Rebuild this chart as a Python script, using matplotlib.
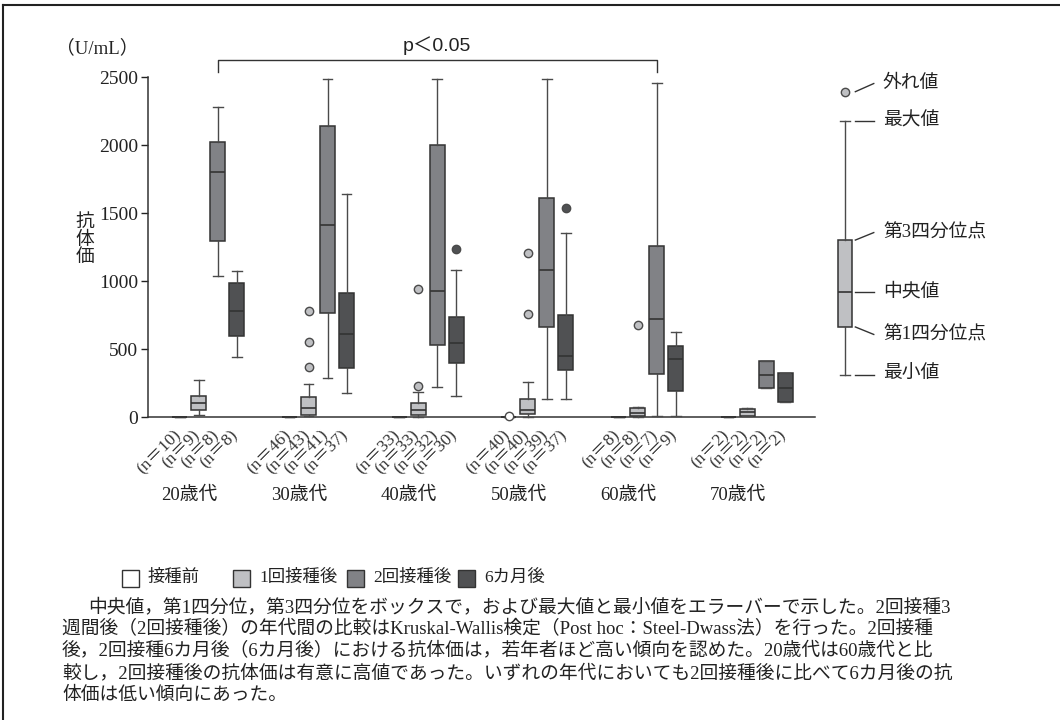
import numpy as np
import matplotlib.pyplot as plt
from matplotlib.patches import Rectangle
from matplotlib.lines import Line2D

SERIF_JP = ['Liberation Serif', 'Noto Sans CJK JP']
SANS_JP = ['Liberation Sans', 'Noto Sans CJK JP']
plt.rcParams['font.family'] = SERIF_JP

ages = ['20歳代', '30歳代', '40歳代', '50歳代', '60歳代', '70歳代']
series = ['接種前', '1回接種後', '2回接種後', '6カ月後']
colors = ['#ffffff', '#bfc0c3', '#818286', '#505153']
n_counts = [[10, 9, 8, 8], [46, 43, 41, 37], [33, 33, 32, 30],
            [40, 40, 39, 37], [8, 8, 7, 9], [2, 2, 2, 2]]

# (min, Q1, median, Q3, max) for each age group
pre = [(0, 0, 0, 0, 0)] * 6
dose1 = [(12, 51, 105, 157, 272), (5, 17, 64, 149, 240), (3, 15, 51, 101, 186),
         (3, 24, 54, 131, 260), (2, 5, 32, 64, 76), (5, 8, 35, 60, 64)]
dose2 = [(1034, 1292, 1801, 2022, 2279), (289, 767, 1414, 2140, 2488),
         (223, 529, 929, 2000, 2488), (130, 659, 1078, 1608, 2488),
         (5, 316, 723, 1255, 2458), (215, 215, 310, 410, 410)]
month6 = [(441, 598, 782, 983, 1073), (179, 358, 610, 909, 1642),
          (157, 395, 544, 733, 1083), (130, 343, 446, 750, 1355),
          (10, 194, 424, 522, 627), (110, 110, 215, 320, 320)]

pre_out = [[], [], [], [5], [], []]
dose1_out = [[], [779, 549, 365], [939, 228], [1203, 755], [676], []]
dose2_out = [[], [], [], [], [], []]
month6_out = [[], [], [1235], [1539], [], []]

# key diagram values
key_five = (309, 662, 919, 1301, 2176)
key_out = [2392]
key_labels = ['外れ値', '最大値', '第3四分位点', '中央値', '第1四分位点', '最小値']

caption = [
    '中央値，第1四分位，第3四分位をボックスで，および最大値と最小値をエラーバーで示した。2回接種3',
    '週間後（2回接種後）の年代間の比較はKruskal-Wallis検定（Post hoc：Steel-Dwass法）を行った。2回接種',
    '後，2回接種6カ月後（6カ月後）における抗体価は，若年者ほど高い傾向を認めた。20歳代は60歳代と比',
    '較し，2回接種後の抗体価は有意に高値であった。いずれの年代においても2回接種後に比べて6カ月後の抗',
    '体価は低い傾向にあった。',
]

W, H = 1060, 720
fig = plt.figure(figsize=(W / 100, H / 100), dpi=100)

def fx(px):
    return px / W

def fy(py):
    return 1 - py / H

ax = fig.add_axes([fx(148), fy(417), fx(815 - 148), 340 / H])

step = 0.173
bw = 0.137

def stats_of(five, out):
    lo, q1, med, q3, hi = five
    return dict(whislo=lo, q1=q1, med=med, q3=q3, whishi=hi, fliers=out)

all_data = [(pre, pre_out), (dose1, dose1_out), (dose2, dose2_out), (month6, month6_out)]
for j, (five_list, out_list) in enumerate(all_data):
    pos = np.arange(len(ages)) + (j - 1.5) * step
    st = [stats_of(f, o) for f, o in zip(five_list, out_list)]
    art = ax.bxp(st, positions=pos, widths=bw, patch_artist=True,
                 manage_ticks=False, capwidths=bw * 0.65,
                 boxprops=dict(facecolor=colors[j], edgecolor='#333333', linewidth=1.1),
                 medianprops=dict(color='#333333', linewidth=1.2),
                 whiskerprops=dict(color='#4a4a4a', linewidth=1.0),
                 capprops=dict(color='#4a4a4a', linewidth=1.0),
                 flierprops=dict(marker='o', markersize=6, markerfacecolor=colors[j],
                                 markeredgecolor='#4a4a4a', markeredgewidth=1.0))
    for group in art.values():
        for a in group:
            a.set_clip_on(False)
            a.set_zorder(3)
    for k, p in enumerate(pos):
        ax.text(p + 0.04, -0.03, f'(n＝{n_counts[k][j]})', rotation=45,
                ha='right', va='top', fontsize=12.5, color='#333333',
                transform=ax.get_xaxis_transform())

ax.set_xlim(-0.55, 5.53)
ax.set_ylim(0, 2500)
ax.set_yticks([0, 500, 1000, 1500, 2000, 2500])
ax.set_xticks([])
ax.tick_params(axis='y', direction='out', length=5, width=1, labelsize=14,
               colors='#222222', pad=2)
for s in ['top', 'right']:
    ax.spines[s].set_visible(False)
for s in ['left', 'bottom']:
    ax.spines[s].set_color('#333333')
    ax.spines[s].set_linewidth(1.1)

for i, a in enumerate(ages):
    ax.text(i - 0.17, -0.23, a, ha='center', va='center', fontsize=13.5,
            color='#222222', transform=ax.get_xaxis_transform())

# significance bracket between 20s and 60s after the second dose
bx0, bx1 = 0 + 0.5 * step, 4 + 0.5 * step
ax.plot([bx0, bx0, bx1, bx1], [2537, 2625, 2625, 2537], color='#333333',
        linewidth=1.0, clip_on=False)
ax.text((bx0 + bx1) / 2, 2660, 'p＜0.05', ha='center', va='bottom',
        fontsize=14, family=SANS_JP, color='#222222')

fig.text(fx(97), fy(48), '（U/mL）', ha='center', va='center', fontsize=13.5, color='#222222')
fig.text(fx(85), fy(240), '抗\n体\n価', ha='center', va='center', fontsize=13.5,
         linespacing=1.05, color='#222222')

# key diagram on the right
kax = fig.add_axes([fx(820), fy(417), fx(230), 340 / H])
kax.set_xlim(0, 1)
kax.set_ylim(0, 2500)
kax.axis('off')
kx = (845 - 820) / 230
kart = kax.bxp([stats_of(key_five, key_out)], positions=[kx], widths=0.065,
               patch_artist=True, manage_ticks=False, capwidths=0.045,
               boxprops=dict(facecolor=colors[1], edgecolor='#333333', linewidth=1.1),
               medianprops=dict(color='#333333', linewidth=1.2),
               whiskerprops=dict(color='#4a4a4a', linewidth=1.0),
               capprops=dict(color='#4a4a4a', linewidth=1.0),
               flierprops=dict(marker='o', markersize=6, markerfacecolor=colors[1],
                               markeredgecolor='#4a4a4a', markeredgewidth=1.0))
lo, q1, med, q3, hi = key_five
ol = key_out[0]
x0, x1 = kx + 0.045, kx + 0.125
lead = [(ol, ol + 60), (hi, hi), (q3, q3 + 55), (med, med), (q1, q1 - 55), (lo, lo)]
for (ya, yb), lab in zip(lead, key_labels):
    kax.plot([x0, x1], [ya, yb], color='#333333', linewidth=1.0)
    kax.text(x1 + 0.04, yb, lab, ha='left', va='center', fontsize=13.5, color='#222222')

# legend row
leg_sq = [122, 233, 347, 458]
for j, name in enumerate(series):
    fig.patches.append(Rectangle((fx(leg_sq[j]), fy(587)), fx(17), 17 / H,
                                 transform=fig.transFigure, facecolor=colors[j],
                                 edgecolor='#333333', linewidth=1.0))
    fig.text(fx(leg_sq[j] + 26), fy(578), name, ha='left', va='center',
             fontsize=12.5, color='#222222')

for i, line in enumerate(caption):
    x = 88 if i == 0 else 62
    fig.text(fx(x), fy(607 + 22 * i), line, ha='left', va='center',
             fontsize=13.5, color='#222222')

# outer frame (top and left edges)
fig.add_artist(Line2D([fx(3), 1], [fy(5), fy(5)], color='#222222', linewidth=1.5,
                      transform=fig.transFigure))
fig.add_artist(Line2D([fx(3), fx(3)], [fy(5), 0], color='#222222', linewidth=1.5,
                      transform=fig.transFigure))

fig.savefig('out.png', dpi=100, facecolor='white')
